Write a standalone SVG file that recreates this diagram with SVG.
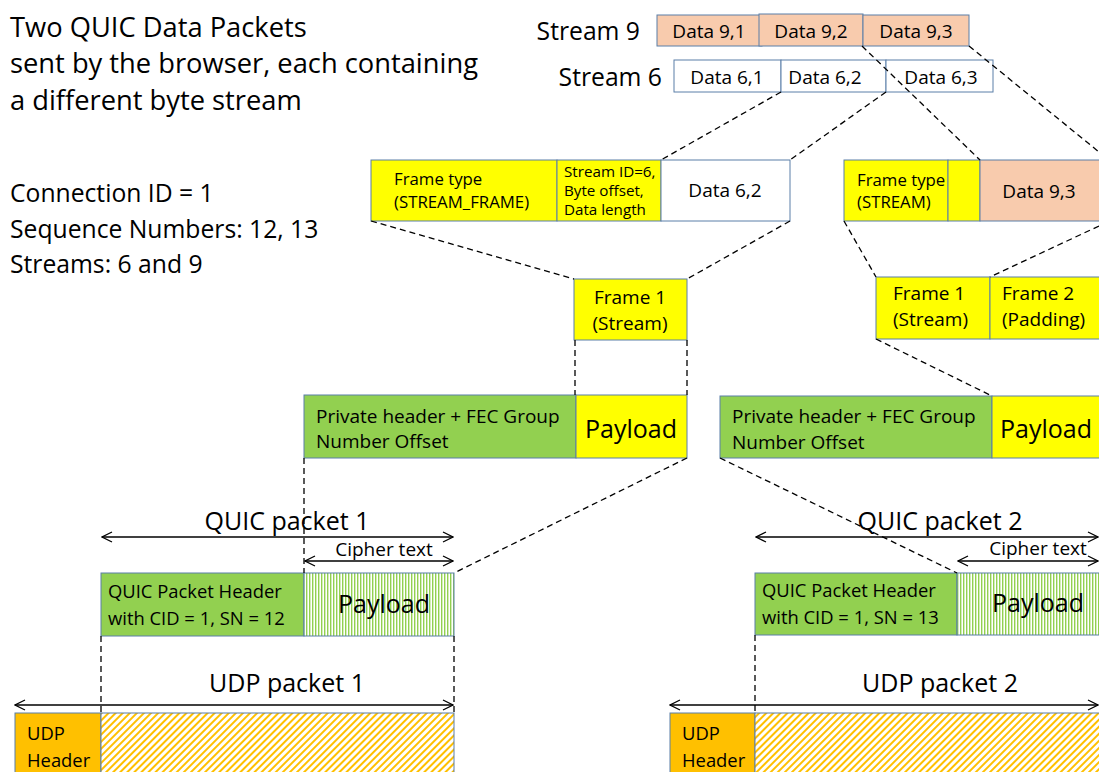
<svg xmlns="http://www.w3.org/2000/svg" width="1099" height="772" viewBox="0 0 1099 772">
<style>
text{font-family:"Open Sans","Noto Sans",sans-serif;fill:#000}
.box{stroke:#5B7FA8;stroke-width:1}
.peach{fill:#F8CBAD}
.white{fill:#FFFFFF}
.yellow{fill:#FFFF00}
.green{fill:#92D050}
.orange{fill:#FFC000}
.dash{stroke:#000;stroke-width:1.3;stroke-dasharray:6,4;fill:none}
.arr{stroke:#000;stroke-width:1.3;fill:none;marker-start:url(#ah);marker-end:url(#ah)}
.t17{font-size:19px}
.t15{font-size:16.8px}
.t14{font-size:15.2px}
.t18{font-size:19px}
.th{font-size:18.4px}
.t24{font-size:25px}
.t26{font-size:27.3px}
.t22{font-size:24.7px}
</style>
<defs>
<marker id="ah" viewBox="0 0 12 12" refX="11" refY="6" markerWidth="12" markerHeight="12" markerUnits="userSpaceOnUse" orient="auto-start-reverse">
<path d="M1,1 L11,6 L1,11" fill="none" stroke="#000" stroke-width="1.3"/>
</marker>
<pattern id="vstripe" width="3" height="10" patternUnits="userSpaceOnUse">
<rect width="3" height="10" fill="#FFFFFF"/>
<rect width="1.4" height="10" fill="#92D050"/>
</pattern>
<pattern id="dstripe" width="5" height="5" patternUnits="userSpaceOnUse" patternTransform="rotate(45)">
<rect width="5" height="5" fill="#FFFFFF"/>
<rect width="2" height="5" fill="#FFC000"/>
</pattern>
</defs>

<g id="title">
<text x="10" y="37" class="t26">Two QUIC Data Packets</text>
<text x="10" y="73" class="t26">sent by the browser, each containing</text>
<text x="10" y="110" class="t26">a different byte stream</text>
</g>
<g id="info">
<text x="10" y="202" class="t22">Connection ID = 1</text>
<text x="10" y="238" class="t22">Sequence Numbers: 12, 13</text>
<text x="10" y="273" class="t22">Streams: 6 and 9</text>
</g>

<g id="stream9">
<text x="640" y="40" class="t22" text-anchor="end">Stream 9</text>
<rect x="657" y="15" width="105" height="31" class="box peach"/>
<rect x="759" y="14" width="104" height="32" class="box peach"/>
<rect x="863" y="15" width="106" height="31" class="box peach"/>
<text x="709" y="38" class="t17" text-anchor="middle">Data 9,1</text>
<text x="811" y="38" class="t17" text-anchor="middle">Data 9,2</text>
<text x="916" y="38" class="t17" text-anchor="middle">Data 9,3</text>
</g>
<g id="stream6">
<text x="662" y="86" class="t22" text-anchor="end">Stream 6</text>
<rect x="674" y="60" width="107" height="32" class="box white"/>
<rect x="781" y="60" width="105" height="32" class="box white"/>
<rect x="886" y="60" width="107" height="32" class="box white"/>
<text x="727" y="84" class="t17" text-anchor="middle">Data 6,1</text>
<text x="825" y="84" class="t17" text-anchor="middle">Data 6,2</text>
<text x="941" y="84" class="t17" text-anchor="middle">Data 6,3</text>
</g>

<g id="frame-s6">
<rect x="371" y="160" width="186" height="61" class="box yellow"/>
<rect x="557" y="160" width="104" height="61" class="box yellow"/>
<rect x="661" y="160" width="129" height="61" class="box white"/>
<text x="394" y="185" class="t15">Frame type</text>
<text x="394" y="208" class="t15">(STREAM_FRAME)</text>
<text x="564" y="177" class="t14">Stream ID=6,</text>
<text x="564" y="196" class="t14">Byte offset,</text>
<text x="564" y="215" class="t14">Data length</text>
<text x="725" y="197" class="t17" text-anchor="middle">Data 6,2</text>
</g>
<g id="frame-s9">
<rect x="844" y="160" width="104" height="61" class="box yellow"/>
<rect x="948" y="160" width="32" height="61" class="box yellow"/>
<rect x="980" y="160" width="125" height="61" class="box peach"/>
<text x="857" y="186" class="t15">Frame type</text>
<text x="857" y="208" class="t15">(STREAM)</text>
<text x="1039" y="198" class="t17" text-anchor="middle">Data 9,3</text>
</g>

<g id="frames-p1">
<rect x="574" y="279" width="113" height="61" class="box yellow"/>
<text x="630" y="304" class="t18" text-anchor="middle">Frame 1</text>
<text x="630" y="330" class="t18" text-anchor="middle">(Stream)</text>
</g>
<g id="frames-p2">
<rect x="876" y="277" width="114" height="62" class="box yellow"/>
<rect x="990" y="277" width="115" height="62" class="box yellow"/>
<text x="893" y="300" class="t18">Frame 1</text>
<text x="893" y="326" class="t18">(Stream)</text>
<text x="1002" y="300" class="t18">Frame 2</text>
<text x="1002" y="326" class="t18">(Padding)</text>
</g>

<g id="private-p1">
<rect x="304" y="395" width="272" height="63" class="box green"/>
<rect x="576" y="395" width="111" height="63" class="box yellow"/>
<text x="316" y="423" class="t18">Private header + FEC Group</text>
<text x="316" y="448" class="t18">Number Offset</text>
<text x="631" y="438" class="t24" text-anchor="middle">Payload</text>
</g>
<g id="private-p2">
<rect x="720" y="396" width="272" height="62" class="box green"/>
<rect x="992" y="396" width="113" height="62" class="box yellow"/>
<text x="732" y="423" class="t18">Private header + FEC Group</text>
<text x="732" y="449" class="t18">Number Offset</text>
<text x="1046" y="438" class="t24" text-anchor="middle">Payload</text>
</g>

<g id="quic-p1">
<text x="287" y="530" class="t24" text-anchor="middle">QUIC packet 1</text>
<text x="384" y="556" class="t18" text-anchor="middle">Cipher text</text>
<rect x="101" y="573" width="203" height="63" class="box green"/>
<rect x="304" y="573" width="150" height="63" class="box" fill="url(#vstripe)"/>
<text x="108" y="598" class="th">QUIC Packet Header</text>
<text x="108" y="625" class="th">with CID = 1, SN = 12</text>
<text x="384" y="613" class="t24" text-anchor="middle">Payload</text>
</g>
<g id="quic-p2">
<text x="940" y="530" class="t24" text-anchor="middle">QUIC packet 2</text>
<text x="1038" y="555" class="t18" text-anchor="middle">Cipher text</text>
<rect x="755" y="573" width="202" height="62" class="box green"/>
<rect x="957" y="573" width="148" height="62" class="box" fill="url(#vstripe)"/>
<text x="762" y="597" class="th">QUIC Packet Header</text>
<text x="762" y="624" class="th">with CID = 1, SN = 13</text>
<text x="1038" y="612" class="t24" text-anchor="middle">Payload</text>
</g>

<g id="udp-p1">
<text x="287" y="692" class="t24" text-anchor="middle">UDP packet 1</text>
<rect x="15" y="713" width="86" height="70" class="box orange"/>
<rect x="101" y="713" width="353" height="70" class="box" fill="url(#dstripe)"/>
<text x="27" y="740" class="th">UDP</text>
<text x="27" y="767" class="th">Header</text>
</g>
<g id="udp-p2">
<text x="940" y="692" class="t24" text-anchor="middle">UDP packet 2</text>
<rect x="670" y="713" width="85" height="70" class="box orange"/>
<rect x="755" y="713" width="350" height="70" class="box" fill="url(#dstripe)"/>
<text x="682" y="740" class="th">UDP</text>
<text x="682" y="767" class="th">Header</text>
</g>

<g id="connectors">
<line x1="781" y1="92" x2="661" y2="160" class="dash"/>
<line x1="886" y1="92" x2="790" y2="160" class="dash"/>
<line x1="862" y1="46" x2="980" y2="160" class="dash"/>
<line x1="969" y1="46" x2="1099" y2="152" class="dash"/>
<line x1="371" y1="221" x2="574" y2="279" class="dash"/>
<line x1="790" y1="221" x2="687" y2="279" class="dash"/>
<line x1="844" y1="221" x2="876" y2="277" class="dash"/>
<line x1="1099" y1="226" x2="990" y2="277" class="dash"/>
<line x1="575" y1="340" x2="575" y2="395" class="dash"/>
<line x1="687" y1="340" x2="687" y2="395" class="dash"/>
<line x1="876" y1="339" x2="992" y2="396" class="dash"/>
<line x1="304" y1="458" x2="304" y2="573" class="dash"/>
<line x1="687" y1="458" x2="454" y2="573" class="dash"/>
<line x1="720" y1="458" x2="957" y2="573" class="dash"/>
<line x1="101" y1="636" x2="101" y2="713" class="dash"/>
<line x1="454" y1="636" x2="454" y2="713" class="dash"/>
<line x1="755" y1="635" x2="755" y2="713" class="dash"/>
<line x1="102" y1="537" x2="453" y2="537" class="arr"/>
<line x1="305" y1="561" x2="453" y2="561" class="arr"/>
<line x1="756" y1="537" x2="1098" y2="537" class="arr"/>
<line x1="958" y1="561" x2="1098" y2="561" class="arr"/>
<line x1="15" y1="705" x2="453" y2="705" class="arr"/>
<line x1="670" y1="705" x2="1098" y2="705" class="arr"/>
</g>
</svg>
